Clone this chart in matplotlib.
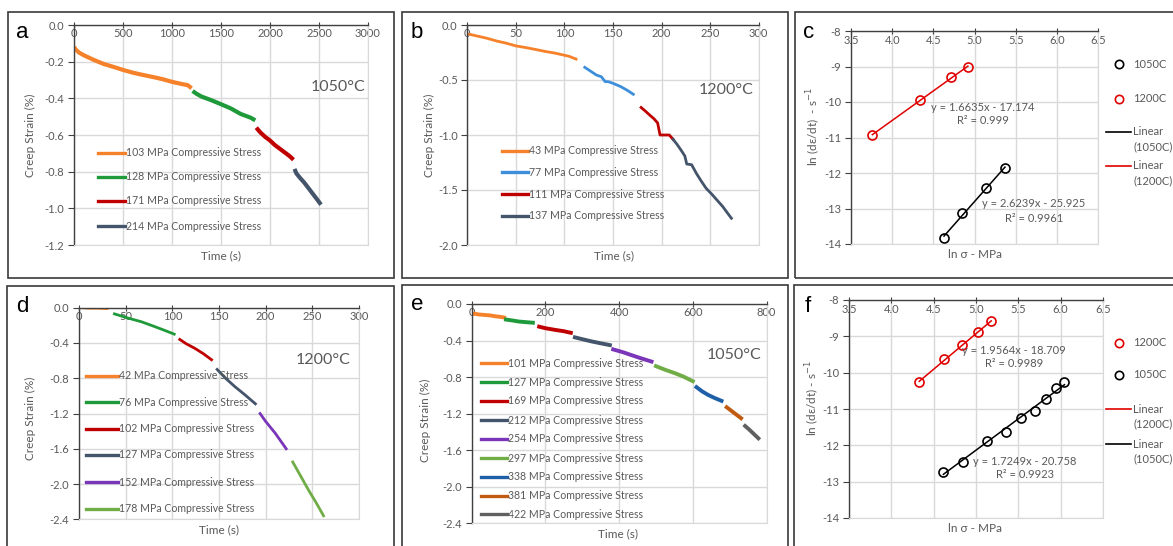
import matplotlib
matplotlib.use("Agg")
import matplotlib.pyplot as plt
from matplotlib.lines import Line2D
from matplotlib.patches import Rectangle
import numpy as np

W, H = 1173, 546
FONT = "Lato"
TXT = "#595959"
GRID = "#d9d9d9"

# ---------------- data ----------------
# Panel a (1050 C)
a_labels = ["103 MPa Compressive Stress", "128 MPa Compressive Stress",
            "171 MPa Compressive Stress", "214 MPa Compressive Stress"]
a_colors = ["#f5822a", "#1e9a3a", "#c00000", "#44546a"]
a_t = [
    [0, 20, 50, 100, 200, 300, 400, 500, 600, 700, 800, 900, 1000, 1100, 1160, 1200],
    [1210, 1250, 1300, 1400, 1500, 1600, 1700, 1800, 1850],
    [1860, 1900, 1950, 2000, 2050, 2100, 2150, 2200, 2240],
    [2250, 2270, 2300, 2350, 2400, 2450, 2500, 2520],
]
a_s = [
    [-0.12, -0.135, -0.15, -0.165, -0.19, -0.212, -0.228, -0.245, -0.26, -0.272, -0.283, -0.295, -0.31, -0.322, -0.328, -0.345],
    [-0.36, -0.375, -0.39, -0.41, -0.432, -0.455, -0.485, -0.505, -0.52],
    [-0.56, -0.585, -0.61, -0.63, -0.655, -0.675, -0.695, -0.715, -0.735],
    [-0.785, -0.81, -0.83, -0.86, -0.895, -0.93, -0.965, -0.98],
]

# Panel b (1200 C)
b_labels = ["43 MPa Compressive Stress", "77 MPa Compressive Stress",
            "111 MPa Compressive Stress", "137 MPa Compressive Stress"]
b_colors = ["#f5822a", "#3d8fdc", "#c00000", "#44546a"]
b_t = [
    [0, 10, 20, 30, 40, 50, 60, 70, 80, 90, 100, 105, 112],
    [121, 127, 133, 138, 142, 145, 150, 158, 165, 171],
    [179, 183, 188, 192, 195, 196, 198.5, 203, 208, 212],
    [212, 216, 220, 224, 226, 231, 236, 241, 246, 252, 258, 263, 268, 272],
]
b_s = [
    [-0.08, -0.10, -0.12, -0.145, -0.165, -0.19, -0.205, -0.222, -0.24, -0.255, -0.275, -0.285, -0.31],
    [-0.385, -0.42, -0.455, -0.47, -0.515, -0.515, -0.53, -0.56, -0.595, -0.63],
    [-0.75, -0.78, -0.82, -0.85, -0.88, -0.89, -1.0, -1.0, -1.0, -1.04],
    [-1.04, -1.085, -1.136, -1.19, -1.264, -1.27, -1.35, -1.42, -1.485, -1.54, -1.6, -1.65, -1.71, -1.757],
]

# Panel d (1200 C)
d_labels = ["42 MPa Compressive Stress", "76 MPa Compressive Stress",
            "102 MPa Compressive Stress", "127 MPa Compressive Stress",
            "152 MPa Compressive Stress", "178 MPa Compressive Stress"]
d_colors = ["#f5822a", "#1e9a3a", "#c00000", "#44546a", "#7a35b8", "#70ad47"]
d_t = [
    [3, 10, 20, 30],
    [38, 50, 67, 80, 90, 102],
    [108, 115, 124, 133, 142],
    [148, 157, 167, 178, 189],
    [194, 200, 210, 216, 222],
    [229, 237, 246, 254, 262],
]
d_s = [
    [0.0, -0.005, -0.005, -0.01],
    [-0.07, -0.11, -0.16, -0.21, -0.25, -0.30],
    [-0.36, -0.41, -0.46, -0.52, -0.59],
    [-0.70, -0.80, -0.895, -0.99, -1.09],
    [-1.20, -1.29, -1.42, -1.51, -1.60],
    [-1.75, -1.90, -2.07, -2.21, -2.36],
]

# Panel e (1050 C)
e_labels = ["101 MPa Compressive Stress", "127 MPa Compressive Stress",
            "169 MPa Compressive Stress", "212 MPa Compressive Stress",
            "254 MPa Compressive Stress", "297 MPa Compressive Stress",
            "338 MPa Compressive Stress", "381 MPa Compressive Stress",
            "422 MPa Compressive Stress"]
e_colors = ["#f5822a", "#1e9a3a", "#c00000", "#44546a", "#7a35b8",
            "#70ad47", "#1f5fa8", "#c05a11", "#606060"]
e_t = [
    [4, 20, 36, 50, 65, 80, 88],
    [93, 110, 128, 145, 166],
    [183, 200, 226, 250, 269],
    [280, 300, 326, 350, 375],
    [384, 410, 434, 460, 488],
    [500, 525, 552, 575, 600],
    [610, 625, 642, 660, 678],
    [692, 705, 718, 731],
    [742, 752, 765, 778],
]
e_s = [
    [-0.105, -0.115, -0.12, -0.125, -0.135, -0.142, -0.148],
    [-0.17, -0.18, -0.192, -0.198, -0.205],
    [-0.248, -0.265, -0.283, -0.298, -0.315],
    [-0.365, -0.385, -0.41, -0.43, -0.45],
    [-0.497, -0.527, -0.56, -0.595, -0.63],
    [-0.68, -0.72, -0.758, -0.795, -0.845],
    [-0.91, -0.955, -0.996, -1.03, -1.06],
    [-1.13, -1.17, -1.21, -1.25],
    [-1.335, -1.37, -1.42, -1.47],
]

# Panel c: ln(stress) vs ln(strain rate)
c_x_1050 = [4.63, 4.85, 5.14, 5.37]
c_y_1050 = [-13.82, -13.12, -12.43, -11.87]
c_x_1200 = [3.76, 4.34, 4.71, 4.92]
c_y_1200 = [-10.92, -9.95, -9.30, -9.02]
c_fit_1050 = (2.6239, -25.925)
c_fit_1200 = (1.6635, -17.174)
c_eq_1050 = ["y = 2.6239x - 25.925", "R² = 0.9961"]
c_eq_1200 = ["y = 1.6635x - 17.174", "R² = 0.999"]

# Panel f
f_x_1200 = [4.33, 4.62, 4.84, 5.02, 5.18]
f_y_1200 = [-10.26, -9.63, -9.23, -8.88, -8.57]
f_x_1050 = [4.615, 4.844, 5.13, 5.357, 5.537, 5.694, 5.823, 5.943, 6.045]
f_y_1050 = [-12.73, -12.45, -11.88, -11.63, -11.26, -11.06, -10.73, -10.43, -10.26]
f_fit_1200 = (1.9564, -18.709)
f_fit_1050 = (1.7249, -20.758)
f_eq_1200 = ["y = 1.9564x - 18.709", "R² = 0.9989"]
f_eq_1050 = ["y = 1.7249x - 20.758", "R² = 0.9923"]

# ---------------- helpers ----------------
fig = plt.figure(figsize=(W / 100, H / 100), dpi=100)
plt.rcParams["font.family"] = [FONT, "DejaVu Sans"]


def fx(x):
    return x / W


def fy(y):
    return 1 - y / H


def add_axes(l, r, t, b):
    return fig.add_axes([fx(l), fy(b), fx(r) - fx(l), (b - t) / H])


def ftext(x, y, s, **kw):
    kw.setdefault("color", TXT)
    kw.setdefault("ha", "center")
    kw.setdefault("va", "center")
    fig.text(fx(x), fy(y), s, **kw)


def fline(x1, x2, y, color, lw=2.2):
    fig.add_artist(Line2D([fx(x1), fx(x2)], [fy(y), fy(y)], color=color, lw=lw,
                          transform=fig.transFigure))


def fmarker(x, y, color):
    fig.add_artist(Line2D([fx(x)], [fy(y)], marker="o", ms=6, mfc="none", mec=color,
                          mew=1.2, transform=fig.transFigure))


def frame(l, t, r, b):
    fig.add_artist(Rectangle((fx(l), fy(b)), fx(r) - fx(l), (b - t) / H,
                             fill=False, ec="#3a3a3a", lw=1.2,
                             transform=fig.transFigure))


def fmt(f, v):
    return f.format(round(float(v), 6) + 0.0)


def style(ax, xlim, ylim, xticks, yticks, xfmt, yfmt, pad=-12):
    ax.set_xlim(*xlim)
    ax.set_ylim(*ylim)
    ax.set_xticks(xticks)
    ax.set_yticks(yticks)
    ax.set_xticklabels([fmt(xfmt, v) for v in xticks])
    ax.set_yticklabels([fmt(yfmt, v) for v in yticks])
    ax.grid(True, color=GRID, lw=1.0)
    ax.set_axisbelow(True)
    for sp in ("right", "bottom"):
        ax.spines[sp].set_color(GRID)
    for sp in ("left", "top"):
        ax.spines[sp].set_color("#404040")
        ax.spines[sp].set_linewidth(1.0)
    ax.xaxis.set_ticks_position("top")
    ax.tick_params(axis="x", top=True, bottom=False, labeltop=True, labelbottom=False,
                   direction="inout", length=4, pad=pad, labelsize=8, labelcolor=TXT,
                   color="#404040")
    ax.tick_params(axis="y", direction="out", length=4, pad=3, labelsize=8,
                   labelcolor=TXT, color="#404040")


def legend_lines(x1, x2, ys, colors, labels, lw=2.4, size=7.6):
    for y, c, lab in zip(ys, colors, labels):
        fline(x1, x2, y, c, lw)
        ftext(x2 + 1, y, lab, ha="left", fontsize=size)


# ---------------- frames ----------------
frame(8, 12, 394, 278)
frame(402, 12, 788, 278)
frame(795, 12, 1185, 278)
frame(7, 286, 394, 560)
frame(402, 285, 788, 560)
frame(794, 285, 1185, 560)

# ---------------- panel a ----------------
ax = add_axes(74, 368, 25, 245)
for t, s, c in zip(a_t, a_s, a_colors):
    ax.plot(t, s, color=c, lw=3.0, solid_capstyle="butt")
style(ax, (0, 3000), (-1.2, 0.0), np.arange(0, 3001, 500), np.arange(-1.2, 0.01, 0.2),
      "{:.0f}", "{:.1f}")
legend_lines(98, 125, [153, 177, 201, 226], a_colors, a_labels)
ftext(338, 87, "1050°C", fontsize=11.5)
ftext(30, 135, "Creep Strain (%)", rotation=90, fontsize=8.5)
ftext(221, 256, "Time (s)", fontsize=8.5)
fig.text(fx(22), fy(33), "a", fontsize=16, family="Liberation Sans", ha="center", va="center")

# ---------------- panel b ----------------
ax = add_axes(467.3, 758.6, 25, 245)
for t, s, c in zip(b_t, b_s, b_colors):
    ax.plot(t, s, color=c, lw=2.0)
style(ax, (0, 300), (-2.0, 0.0), np.arange(0, 301, 50), np.arange(-2.0, 0.01, 0.5),
      "{:.0f}", "{:.1f}")
legend_lines(502, 528, [150.7, 172.3, 194, 215.7], b_colors, b_labels)
ftext(726, 90, "1200°C", fontsize=11.5)
ftext(429, 135, "Creep Strain (%)", rotation=90, fontsize=8.5)
ftext(614, 256, "Time (s)", fontsize=8.5)
fig.text(fx(417), fy(33), "b", fontsize=16, family="Liberation Sans", ha="center", va="center")

# ---------------- panel c ----------------
ax = add_axes(851, 1098, 31, 244)
ax.plot(c_x_1050, c_y_1050, ls="none", marker="o", ms=6.5, mfc="none", mec="black", mew=1.2)
ax.plot(c_x_1200, c_y_1200, ls="none", marker="o", ms=6.5, mfc="none", mec="#e00000", mew=1.2)
xs = np.array([min(c_x_1050), max(c_x_1050)])
ax.plot(xs, c_fit_1050[0] * xs + c_fit_1050[1], color="black", lw=1.1)
xs = np.array([min(c_x_1200), max(c_x_1200)])
ax.plot(xs, c_fit_1200[0] * xs + c_fit_1200[1], color="#e00000", lw=1.1)
style(ax, (3.5, 6.5), (-14, -8), np.arange(3.5, 6.51, 0.5), np.arange(-14, -7.9, 1),
      "{:.1f}", "{:.0f}", pad=-13)
ftext(983, 107.3, c_eq_1200[0], fontsize=8)
ftext(983, 120.7, c_eq_1200[1], fontsize=8)
ftext(1034, 203.3, c_eq_1050[0], fontsize=8)
ftext(1034, 218.3, c_eq_1050[1], fontsize=8)
LX = 1133
fmarker(1119, 64, "black")
fmarker(1119, 99, "#e00000")
ftext(LX, 64, "1050C", ha="left", fontsize=8)
ftext(LX, 99, "1200C", ha="left", fontsize=8)
fline(1106, 1131, 131.7, "black", 1.2)
ftext(LX, 131.7, "Linear", ha="left", fontsize=8)
ftext(LX, 147, "(1050C)", ha="left", fontsize=8)
fline(1106, 1131, 165.7, "#e00000", 1.2)
ftext(LX, 165.7, "Linear", ha="left", fontsize=8)
ftext(LX, 181, "(1200C)", ha="left", fontsize=8)
ftext(814, 127, "ln (dε/dt)  - s$^{-1}$", rotation=90, fontsize=8.5)
ftext(975, 255, "ln σ - MPa", fontsize=8.5)
fig.text(fx(809), fy(33), "c", fontsize=16, family="Liberation Sans", ha="center", va="center")

# ---------------- panel d ----------------
ax = add_axes(79, 359, 307.7, 519.3)
for t, s, c in zip(d_t, d_s, d_colors):
    ax.plot(t, s, color=c, lw=2.0)
style(ax, (0, 300), (-2.4, 0.0), np.arange(0, 301, 50), np.arange(-2.4, 0.01, 0.4),
      "{:.0f}", "{:.1f}")
legend_lines(86, 118, [375.7, 402.3, 429, 455, 482, 508.7], d_colors, d_labels)
ftext(323, 360, "1200°C", fontsize=11.5)
ftext(30, 418, "Creep Strain (%)", rotation=90, fontsize=8.5)
ftext(219, 530, "Time (s)", fontsize=8.5)
fig.text(fx(22), fy(306), "d", fontsize=16, family="Liberation Sans", ha="center", va="center")

# ---------------- panel e ----------------
ax = add_axes(471.7, 766.5, 304, 523.3)
for t, s, c in zip(e_t, e_s, e_colors):
    ax.plot(t, s, color=c, lw=2.8)
style(ax, (0, 800), (-2.4, 0.0), np.arange(0, 801, 200), np.arange(-2.4, 0.01, 0.4),
      "{:.0f}", "{:.1f}")
legend_lines(481, 507, [363.3, 382.3, 401, 420, 439, 458, 476.7, 495.7, 514.3], e_colors, e_labels)
ftext(734, 355, "1050°C", fontsize=11.5)
ftext(425, 420, "Creep Strain (%)", rotation=90, fontsize=8.5)
ftext(618, 534, "Time (s)", fontsize=8.5)
fig.text(fx(417), fy(305), "e", fontsize=16, family="Liberation Sans", ha="center", va="center")

# ---------------- panel f ----------------
ax = add_axes(849, 1103, 300, 518)
ax.plot(f_x_1200, f_y_1200, ls="none", marker="o", ms=6.5, mfc="none", mec="#e00000", mew=1.2)
ax.plot(f_x_1050, f_y_1050, ls="none", marker="o", ms=6.5, mfc="none", mec="black", mew=1.2)
xs = np.array([min(f_x_1200), max(f_x_1200)])
ax.plot(xs, f_fit_1200[0] * xs + f_fit_1200[1], color="#e00000", lw=1.1)
xs = np.array([min(f_x_1050), max(f_x_1050)])
ax.plot(xs, f_fit_1050[0] * xs + f_fit_1050[1], color="black", lw=1.1)
style(ax, (3.5, 6.5), (-14, -8), np.arange(3.5, 6.51, 0.5), np.arange(-14, -7.9, 1),
      "{:.1f}", "{:.0f}", pad=-13)
ftext(1014, 350, f_eq_1200[0], fontsize=8)
ftext(1014, 363.3, f_eq_1200[1], fontsize=8)
ftext(1025, 461.7, f_eq_1050[0], fontsize=8)
ftext(1025, 474.3, f_eq_1050[1], fontsize=8)
fmarker(1119, 342.7, "#e00000")
fmarker(1119, 375, "black")
ftext(LX, 342.7, "1200C", ha="left", fontsize=8)
ftext(LX, 375, "1050C", ha="left", fontsize=8)
fline(1106, 1131, 409.3, "#e00000", 1.2)
ftext(LX, 409.3, "Linear", ha="left", fontsize=8)
ftext(LX, 424, "(1200C)", ha="left", fontsize=8)
fline(1106, 1131, 444, "black", 1.2)
ftext(LX, 444, "Linear", ha="left", fontsize=8)
ftext(LX, 458.5, "(1050C)", ha="left", fontsize=8)
ftext(813, 398, "ln (dε/dt) - s$^{-1}$", rotation=90, fontsize=8.5)
ftext(975, 529, "ln σ - MPa", fontsize=8.5)
fig.text(fx(808), fy(306), "f", fontsize=16, family="Liberation Sans", ha="center", va="center")

fig.savefig("out.png", dpi=100, facecolor="white")
